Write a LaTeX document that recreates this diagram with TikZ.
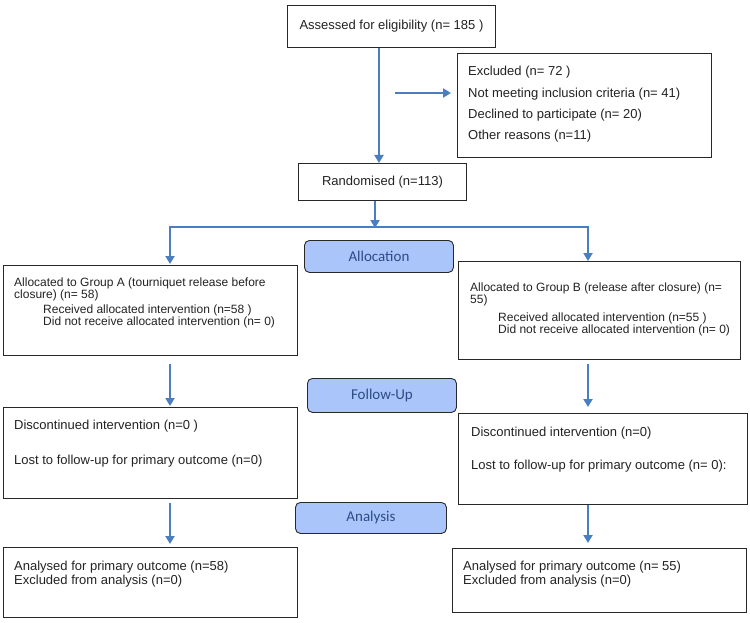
\documentclass[tikz,border=0pt]{standalone}
\usepackage{fontspec}
\setmainfont{Liberation Sans}
\newfontfamily\stagefont{Carlito}
\usetikzlibrary{arrows.meta,calc}
\definecolor{arrowblue}{RGB}{74,126,193}
\definecolor{stagefill}{RGB}{169,197,250}
\definecolor{stagetext}{RGB}{47,75,135}
\definecolor{boxline}{RGB}{40,40,40}
\definecolor{txtcol}{RGB}{35,35,35}
\newcommand{\lines}[1]{\begin{tabular}[t]{@{}l@{}}#1\end{tabular}}
\tikzset{
  box/.style={draw=boxline, line width=0.9pt, inner sep=0pt, anchor=north west, fill=white},
  stagebox/.style={draw=boxline, line width=0.9pt, fill=stagefill, rounded corners=5pt,
    inner sep=0pt, anchor=north west, text=stagetext, font=\stagefont\fontsize{15}{18}\selectfont},
  txt/.style={inner sep=0pt, anchor=base west, text=txtcol},
  arr/.style={draw=arrowblue, line width=2.4pt, -{Triangle[length=8pt,width=9pt]}},
  bar/.style={draw=arrowblue, line width=2.4pt},
}
\begin{document}
\begin{tikzpicture}[x=1pt,y=-1pt]
\useasboundingbox (0,0) rectangle (750,623);
% boxes
\node[box, minimum width=208pt, minimum height=42pt] (assess) at (287,5) {};
\node[txt, anchor=center, font=\fontsize{13}{15}\selectfont] (assesst) at (assess.center) {Assessed for eligibility (n= 185 )};
\node[box, minimum width=254pt, minimum height=104pt] (excl) at (457,53) {};
\node[txt, font=\fontsize{13}{21.3}\selectfont] (exclt) at (468,76) {\lines{Excluded (n= 72 )\\Not meeting inclusion criteria (n= 41)\\Declined to participate (n= 20)\\Other reasons (n=11)}};
\node[box, minimum width=168pt, minimum height=37pt] (rand) at (298,163) {};
\node[txt, anchor=center, font=\fontsize{13}{15}\selectfont] (randt) at (rand.center) {Randomised (n=113)};

\node[stagebox, minimum width=149pt, minimum height=32pt] (alloc) at (304,240) {Allocation};
\node[stagebox, minimum width=149pt, minimum height=34pt] (follow) at (307,378) {Follow-Up};
\node[stagebox, minimum width=151pt, minimum height=31pt] (analysis) at (295,502) {Analysis};

\node[box, minimum width=294pt, minimum height=90pt] (ga) at (3,265) {};
\node[txt, font=\fontsize{12}{12}\selectfont] (gat) at (14,286) {\lines{Allocated to Group A (tourniquet release before\\closure) (n= 58)\\[3pt]\hspace*{29pt}Received allocated intervention (n=58 )\\\hspace*{29pt}Did not receive allocated intervention (n= 0)}};
\node[box, minimum width=282pt, minimum height=98pt] (gb) at (458,261) {};
\node[txt, font=\fontsize{12}{12}\selectfont] (gbt) at (470,291) {\lines{Allocated to Group B (release after closure) (n=\\55)\\[6pt]\hspace*{28pt}Received allocated intervention (n=55 )\\\hspace*{28pt}Did not receive allocated intervention (n= 0)}};

\node[box, minimum width=294pt, minimum height=91pt] (fa) at (3,407) {};
\node[txt, font=\fontsize{13}{35}\selectfont] (fat) at (14,429) {\lines{Discontinued intervention (n=0 )\\Lost to follow-up for primary outcome (n=0)}};
\node[box, minimum width=289pt, minimum height=91pt] (fb) at (458,413) {};
\node[txt, font=\fontsize{13}{33}\selectfont] (fbt) at (471,436) {\lines{Discontinued intervention (n=0)\\Lost to follow-up for primary outcome (n= 0):}};

\node[box, minimum width=294pt, minimum height=70pt] (aa) at (3,547) {};
\node[txt, font=\fontsize{13}{14}\selectfont] (aat) at (14,570) {\lines{Analysed for primary outcome (n=58)\\Excluded from analysis (n=0)}};
\node[box, minimum width=294pt, minimum height=64pt] (ab) at (452,548) {};
\node[txt, font=\fontsize{13}{14}\selectfont] (abt) at (463,570) {\lines{Analysed for primary outcome (n= 55)\\Excluded from analysis (n=0)}};

% connectors
\coordinate (ax) at (379,0);
\coordinate (rx) at (375,0);
\coordinate (la) at (170,227);
\coordinate (lb) at (588,227);
\coordinate (exs) at (395,93);
\draw[arr] (assess.south -| ax) -- (rand.north -| ax);
\draw[arr, shorten >=6pt] (exs) -- (exs -| excl.west);
\draw[arr, shorten >=-1pt] (rand.south -| rx) -- (la -| rx);
\draw[bar, line cap=rect] (la) -- (lb);
\draw[arr, shorten >=1pt] (la) -- (la |- ga.north);
\draw[arr] (lb) -- (lb |- gb.north);
\draw[arr, shorten <=8pt, shorten >=1pt] (ga.south -| la) -- (fa.north -| la);
\draw[arr, shorten <=4pt, shorten >=6pt] (gb.south -| lb) -- (fb.north -| lb);
\draw[arr, shorten <=4pt, shorten >=3pt] (fa.south -| la) -- (aa.north -| la);
\draw[arr, shorten <=0pt, shorten >=5pt] (fb.south -| lb) -- (ab.north -| lb);
\end{tikzpicture}
\end{document}
